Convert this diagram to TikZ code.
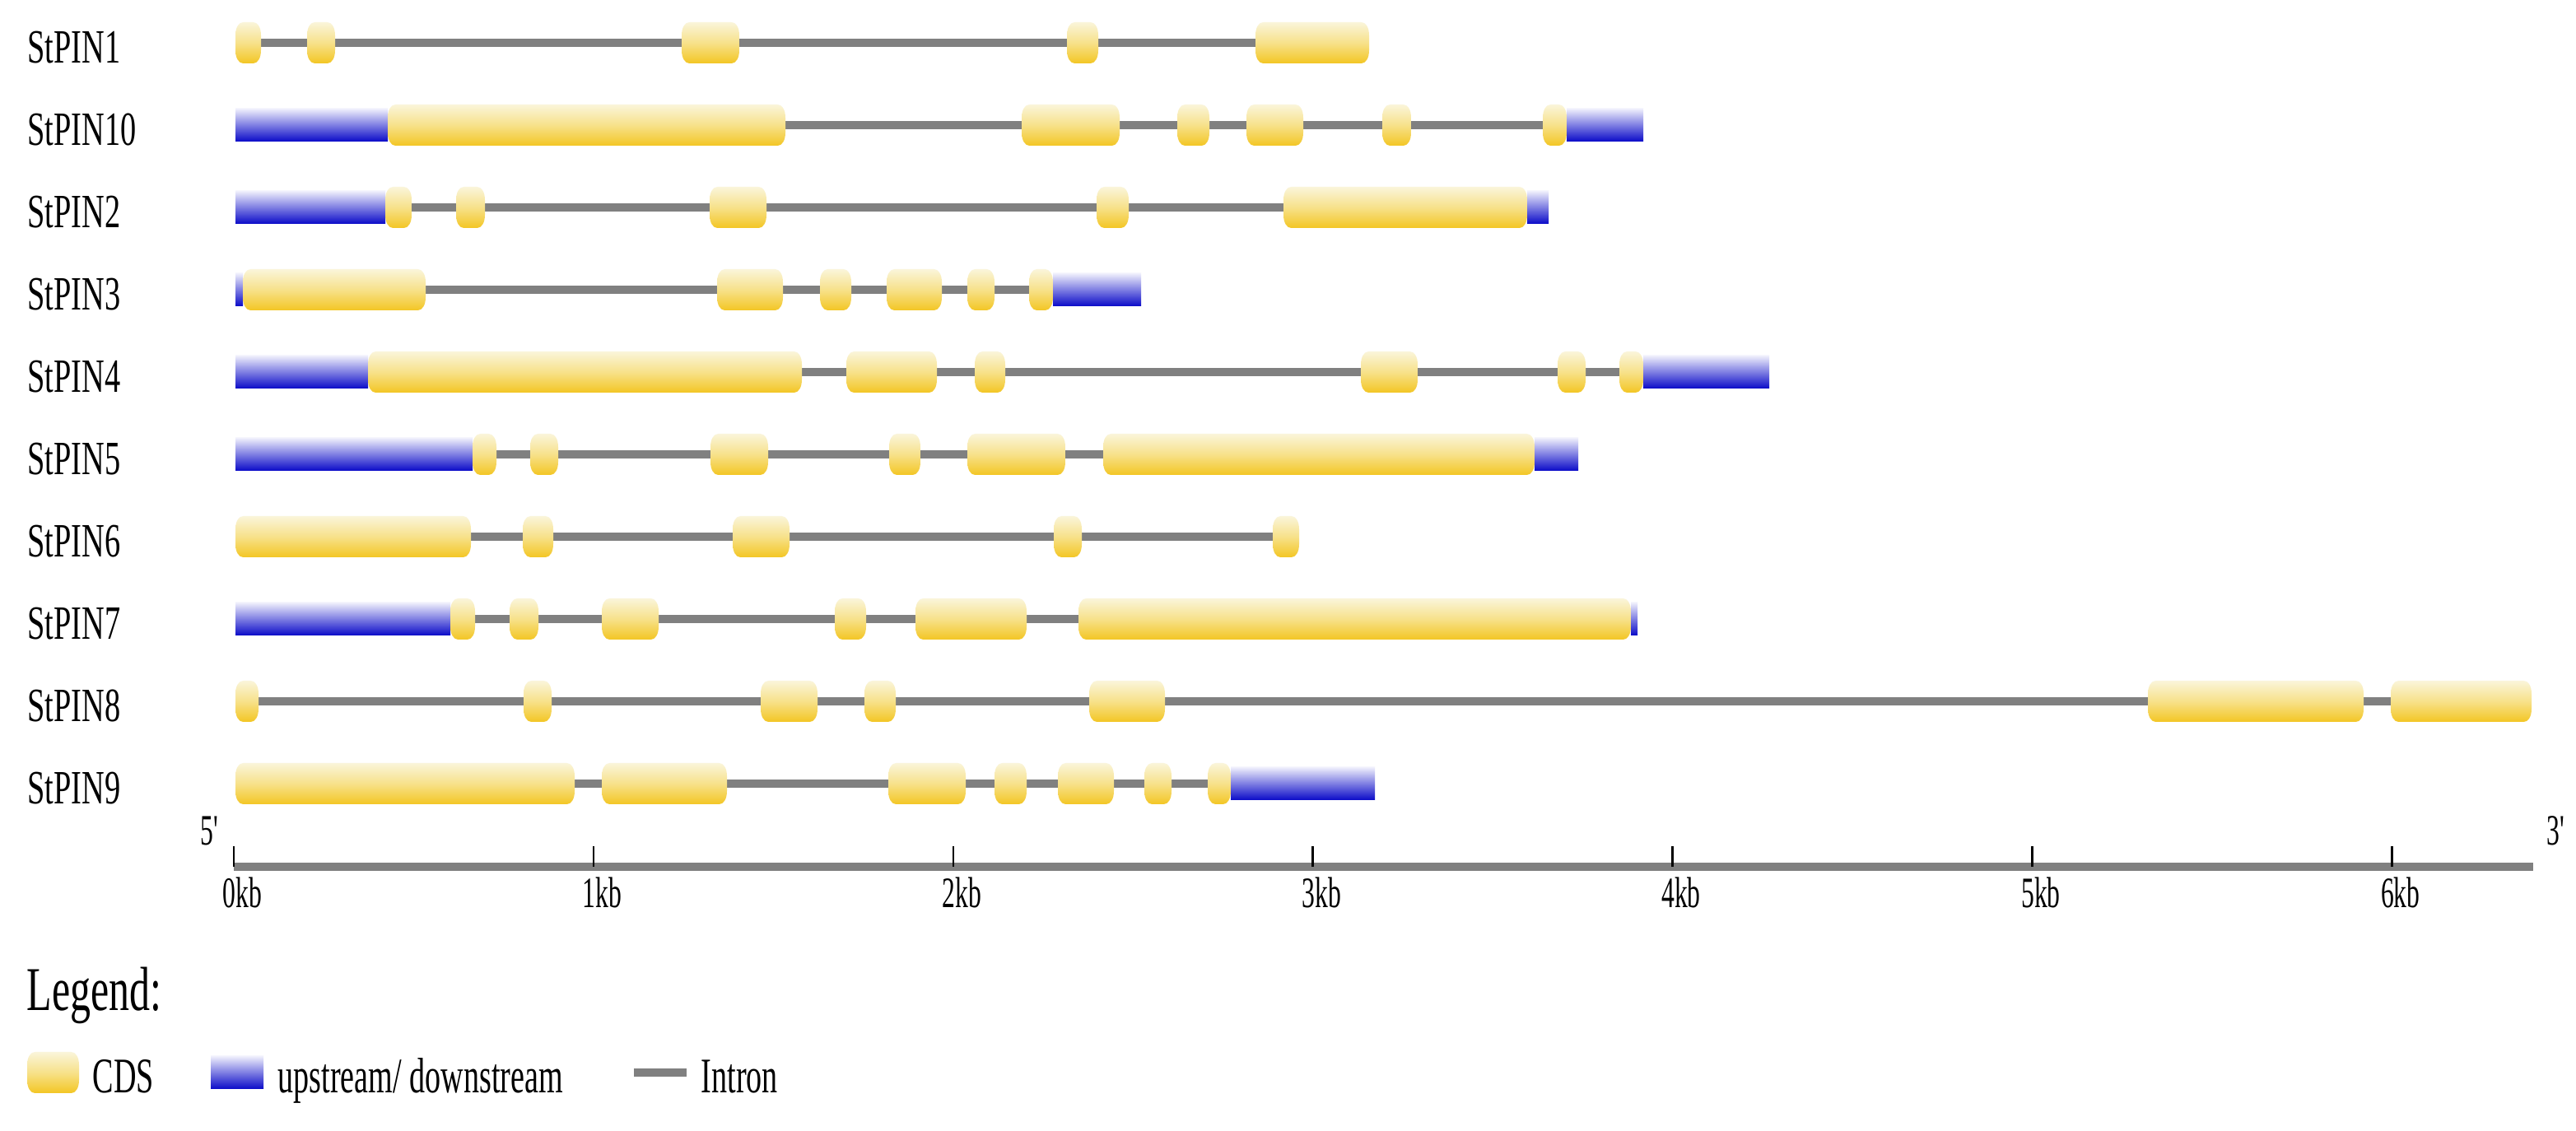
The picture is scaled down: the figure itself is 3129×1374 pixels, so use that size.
\documentclass[tikz,border=0pt]{standalone}
\usepackage{fontspec}
\setmainfont{Liberation Serif}
\usepackage{graphicx}
\definecolor{cdsT}{RGB}{250,245,218}
\definecolor{cdsM}{RGB}{247,225,138}
\definecolor{cdsB}{RGB}{243,198,36}
\definecolor{utrT}{RGB}{240,240,252}
\definecolor{utrB}{RGB}{10,10,200}
\definecolor{intronG}{RGB}{128,128,128}
\tikzset{
  cds/.style={top color=cdsT, bottom color=cdsB, middle color=cdsM, draw=none},
  utr/.style={top color=utrT, bottom color=utrB, draw=none},
  intron/.style={fill=intronG, draw=none},
  ticmark/.style={draw=black, line width=0.7pt},
  glabel/.style={anchor=base west, inner sep=0pt, font=\fontsize{16.5}{19}\selectfont},
  axlab/.style={anchor=base west, inner sep=0pt, font=\fontsize{15}{17}\selectfont},
  legtitle/.style={anchor=base west, inner sep=0pt, font=\fontsize{21.5}{24}\selectfont},
  legitem/.style={anchor=base west, inner sep=0pt, font=\fontsize{17.2}{20}\selectfont}
}
\newcommand\sq[2]{\scalebox{#1}[1]{#2}}
\newcommand\cdsbox[3]{%
  \pgfmathsetmacro\cdsr{min(9.5,(#2-#1)/2)}%
  \path[cds] (#1,#3-9) .. controls (#1,#3-19) and (#1+0.45*\cdsr,#3-25) .. (#1+\cdsr,#3-25)
    -- (#2-\cdsr,#3-25) .. controls (#2-0.45*\cdsr,#3-25) and (#2,#3-19) .. (#2,#3-9)
    -- (#2,#3+9) .. controls (#2,#3+19) and (#2-0.45*\cdsr,#3+25) .. (#2-\cdsr,#3+25)
    -- (#1+\cdsr,#3+25) .. controls (#1+0.45*\cdsr,#3+25) and (#1,#3+19) .. (#1,#3+9) -- cycle;}
\newcommand\utrbox[3]{\path[utr] (#1,#3-20) rectangle (#2,#3+20);}
\newcommand\intronline[3]{\path[intron] (#1,#3-5) rectangle (#2,#3+5);}
\begin{document}
\begin{tikzpicture}[x=0.01cm, y=-0.01cm]
\useasboundingbox[fill=white] (0,0) rectangle (3129,1374);

% ---- labels
\node[glabel] (n1)  at (33,77)  {\sq{0.66}{StPIN1}};
\node[glabel] (n10) at (33,177) {\sq{0.66}{StPIN10}};
\node[glabel] (n2)  at (33,277) {\sq{0.66}{StPIN2}};
\node[glabel] (n3)  at (33,377) {\sq{0.66}{StPIN3}};
\node[glabel] (n4)  at (33,477) {\sq{0.66}{StPIN4}};
\node[glabel] (n5)  at (33,577) {\sq{0.66}{StPIN5}};
\node[glabel] (n6)  at (33,677) {\sq{0.66}{StPIN6}};
\node[glabel] (n7)  at (33,777) {\sq{0.66}{StPIN7}};
\node[glabel] (n8)  at (33,877) {\sq{0.66}{StPIN8}};
\node[glabel] (n9)  at (33,977) {\sq{0.66}{StPIN9}};

% ---- StPIN1
\intronline{286}{1663}{52}
\cdsbox{286}{317}{52}\cdsbox{373}{407}{52}\cdsbox{828}{898}{52}\cdsbox{1296}{1334}{52}\cdsbox{1525}{1663}{52}
% ---- StPIN10
\intronline{286}{1996}{152}
\utrbox{286}{471}{152}
\cdsbox{471}{954}{152}\cdsbox{1241}{1360}{152}\cdsbox{1430}{1469}{152}\cdsbox{1514}{1583}{152}\cdsbox{1679}{1714}{152}\cdsbox{1874}{1903}{152}
\utrbox{1903}{1996}{152}
% ---- StPIN2
\intronline{286}{1881}{252}
\utrbox{286}{468}{252}
\cdsbox{468}{500}{252}\cdsbox{554}{589}{252}\cdsbox{862}{931}{252}\cdsbox{1332}{1371}{252}\cdsbox{1559}{1855}{252}
\utrbox{1855}{1881}{252}
% ---- StPIN3
\intronline{286}{1386}{352}
\utrbox{286}{295}{352}
\cdsbox{295}{517}{352}\cdsbox{871}{951}{352}\cdsbox{996}{1034}{352}\cdsbox{1077}{1144}{352}\cdsbox{1175}{1208}{352}\cdsbox{1250}{1279}{352}
\utrbox{1279}{1386}{352}
% ---- StPIN4
\intronline{286}{2149}{452}
\utrbox{286}{447}{452}
\cdsbox{447}{974}{452}\cdsbox{1028}{1138}{452}\cdsbox{1184}{1221}{452}\cdsbox{1653}{1722}{452}\cdsbox{1892}{1926}{452}\cdsbox{1967}{1996}{452}
\utrbox{1996}{2149}{452}
% ---- StPIN5
\intronline{286}{1917}{552}
\utrbox{286}{574}{552}
\cdsbox{574}{603}{552}\cdsbox{644}{678}{552}\cdsbox{863}{933}{552}\cdsbox{1080}{1118}{552}\cdsbox{1175}{1294}{552}\cdsbox{1340}{1864}{552}
\utrbox{1864}{1917}{552}
% ---- StPIN6
\intronline{286}{1578}{652}
\cdsbox{286}{572}{652}\cdsbox{635}{672}{652}\cdsbox{890}{959}{652}\cdsbox{1280}{1314}{652}\cdsbox{1546}{1578}{652}
% ---- StPIN7
\intronline{286}{1989}{752}
\utrbox{286}{547}{752}
\cdsbox{547}{577}{752}\cdsbox{619}{654}{752}\cdsbox{731}{800}{752}\cdsbox{1014}{1052}{752}\cdsbox{1112}{1247}{752}\cdsbox{1310}{1981}{752}
\utrbox{1981}{1989}{752}
% ---- StPIN8
\intronline{286}{3075}{852}
\cdsbox{286}{314}{852}\cdsbox{636}{670}{852}\cdsbox{924}{993}{852}\cdsbox{1050}{1088}{852}\cdsbox{1323}{1415}{852}\cdsbox{2609}{2871}{852}\cdsbox{2904}{3075}{852}
% ---- StPIN9
\intronline{286}{1670}{952}
\cdsbox{286}{698}{952}\cdsbox{731}{883}{952}\cdsbox{1079}{1173}{952}\cdsbox{1208}{1247}{952}\cdsbox{1285}{1353}{952}\cdsbox{1390}{1423}{952}\cdsbox{1467}{1495}{952}
\utrbox{1495}{1670}{952}

% ---- axis
\path[intron] (284,1048) rectangle (3077,1058);
\foreach \k in {0,...,6} {
  \draw[ticmark] (284+436.9*\k,1028) -- (284+436.9*\k,1053);
  \node[axlab] (t\k) at (284+436.9*\k-14,1103) {\sq{0.6}{\k kb}};
}
\node[axlab] (five)  at (243,1027)  {\sq{0.6}{5\textquotesingle}};
\node[axlab] (three) at (3093,1027) {\sq{0.6}{3\textquotesingle}};

% ---- legend
\node[legtitle] (leg) at (32,1228) {\sq{0.66}{Legend:}};
\cdsbox{33}{96}{1303}
\node[legitem] (lcds) at (112,1328) {\sq{0.63}{CDS}};
\utrbox{256}{320}{1303}
\node[legitem] (lutr) at (337,1328) {\sq{0.63}{upstream/ downstream}};
\intronline{770}{834}{1303}
\node[legitem] (lint) at (851,1328) {\sq{0.63}{Intron}};
\end{tikzpicture}
\end{document}
